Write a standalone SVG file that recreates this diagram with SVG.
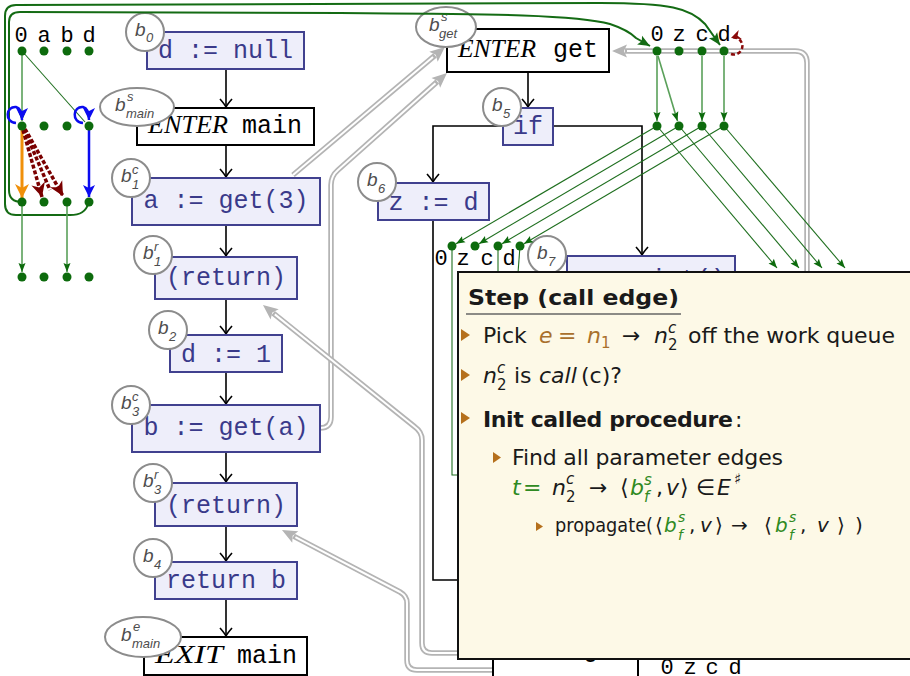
<svg xmlns="http://www.w3.org/2000/svg" width="910" height="676" viewBox="0 0 910 676">
<style>
.nd rect{fill:#eeeefa;stroke:#41418f;stroke-width:2}
.nd text{font-family:"Liberation Mono",monospace;font-size:25px;fill:#3a3a8a;text-anchor:middle}
.bk rect{fill:#fff;stroke:#000;stroke-width:2}
.bk text{font-size:25px;fill:#000}
.it{font-family:"Liberation Serif",serif;font-style:italic}
.mono{font-family:"Liberation Mono",monospace}
.lb circle,.lb ellipse{fill:#fff;stroke:#8c8c8c;stroke-width:2}
.lb text{font-family:"Liberation Sans",sans-serif;font-style:italic;fill:#4d4d4d;font-size:19px}
.lb text.s{font-size:13px}
.cf{fill:none;stroke:#000;stroke-width:1.6}
.dot{fill:#0d6b0d}
.vl{font-family:"Liberation Mono",monospace;font-size:22px;fill:#000;text-anchor:middle}
.ge{fill:none;stroke:#1f6f1f;stroke-width:1.1}
.gl{fill:none;stroke:#5aa05a;stroke-width:1.6}
.gc{fill:none;stroke:#146b14;stroke-width:2}
.go{fill:none;stroke:#b4b4b4;stroke-width:5.5}
.gi{fill:none;stroke:#fff;stroke-width:2}
.note{fill:#fdf9e7;stroke:#111;stroke-width:2}
.t{font-family:"DejaVu Sans",sans-serif;font-size:22px;fill:#1a1a1a}
.t.f{font-size:20px}
.mi{font-style:italic}
.sm{font-size:15px}
.xs{font-size:14px}
.br{fill:#a9702c}
.gr{fill:#2f8a22}
.bul{fill:#b5701c}
</style>
<defs>
<marker id="to" viewBox="-10 -8 12 16" refX="0" refY="0" markerWidth="12" markerHeight="16" markerUnits="userSpaceOnUse" orient="auto"><path d="M-8,-6 Q-2.5,-1.2 0,0 Q-2.5,1.2 -8,6" fill="none" stroke="#000" stroke-width="1.6"/></marker>
<marker id="gray" viewBox="-3 -8 18 16" refX="0" refY="0" markerWidth="18" markerHeight="16" markerUnits="userSpaceOnUse" orient="auto"><path d="M-2,-6.5 L13,0 L-2,6.5 L1,0 z" fill="#b4b4b4"/></marker>
<marker id="gn" viewBox="-11 -5 12 10" refX="0" refY="0" markerWidth="12" markerHeight="10" markerUnits="userSpaceOnUse" orient="auto"><path d="M0,0 L-9,-3.5 L-7.5,0 L-9,3.5 z" fill="#0d6b0d"/></marker>
<marker id="gnL" viewBox="-13 -6 14 12" refX="0" refY="0" markerWidth="14" markerHeight="12" markerUnits="userSpaceOnUse" orient="auto"><path d="M0,0 L-12,-5 L-9.5,0 L-12,5 z" fill="#146b14"/></marker>
<marker id="rd" viewBox="-15 -8 16 16" refX="0" refY="0" markerWidth="16" markerHeight="16" markerUnits="userSpaceOnUse" orient="auto"><path d="M0,0 L-14,-7 L-10,0 L-14,7 z" fill="#7a0000"/></marker>
<marker id="rds" viewBox="-11 -6 12 12" refX="0" refY="0" markerWidth="12" markerHeight="12" markerUnits="userSpaceOnUse" orient="auto"><path d="M0,0 L-10,-5 L-7,0 L-10,5 z" fill="#8a0a0a"/></marker>
<marker id="or" viewBox="-15 -8 16 16" refX="0" refY="0" markerWidth="16" markerHeight="16" markerUnits="userSpaceOnUse" orient="auto"><path d="M0,0 L-14,-7 L-10,0 L-14,7 z" fill="#f0900a"/></marker>
<marker id="bl" viewBox="-13 -7 14 14" refX="0" refY="0" markerWidth="14" markerHeight="14" markerUnits="userSpaceOnUse" orient="auto"><path d="M0,0 L-12,-6 L-9,0 L-12,6 z" fill="#0b0bf0"/></marker>
</defs>

<!-- call / return edges (double gray) -->
<g id="interproc">
<path class="go" marker-end="url(#gray)" d="M293,175 L435,55.4"/>
<path class="gi" d="M293,175 L433,57"/>
<path class="go" marker-end="url(#gray)" d="M320,428 Q331,428 331,417 L331,185 Q331,176 338,170 L437.3,81.6"/>
<path class="gi" d="M320,428 Q331,428 331,417 L331,185 Q331,176 338,170 L435.5,83.2"/>
<path class="go" marker-end="url(#gray)" d="M462,653 L432,653 Q422,653 422,643 L422,440 Q422,432 415,427 L273.1,313.1"/>
<path class="gi" d="M462,653 L432,653 Q422,653 422,643 L422,440 Q422,432 415,427 L274.8,314.4"/>
<path class="go" marker-end="url(#gray)" d="M493,670 L417,670 Q407,670 407,660 L407,603 Q407,596 400,592 L293.5,536.1"/>
<path class="gi" d="M493,670 L417,670 Q407,670 407,660 L407,603 Q407,596 400,592 L295.4,537.1"/>
<path class="go" marker-end="url(#gray)" d="M807,290 L807,63 Q807,51 795,51 L625,51"/>
<path class="gi" d="M807,290 L807,63 Q807,51 795,51 L627,51"/>
</g>

<!-- control-flow edges -->
<g id="cfg-edges">
<path class="cf" marker-end="url(#to)" d="M226,69 L226,107"/>
<path class="cf" marker-end="url(#to)" d="M226,145 L226,177"/>
<path class="cf" marker-end="url(#to)" d="M226,225 L226,256"/>
<path class="cf" marker-end="url(#to)" d="M226,299 L226,334"/>
<path class="cf" marker-end="url(#to)" d="M226,372 L226,404"/>
<path class="cf" marker-end="url(#to)" d="M226,452 L226,482"/>
<path class="cf" marker-end="url(#to)" d="M226,526 L226,561"/>
<path class="cf" marker-end="url(#to)" d="M226,599 L226,636"/>
<path class="cf" marker-end="url(#to)" d="M528,72 L528,107"/>
<path class="cf" marker-end="url(#to)" d="M503,126 L433,126 L433,182"/>
<path class="cf" marker-end="url(#to)" d="M553,126 L642,126 L642,255"/>
<path class="cf" d="M433,220 L433,580 L462,580"/>
</g>

<!-- main procedure nodes -->
<g id="b0" class="nd"><rect x="147" y="32" width="157" height="37"/><text x="225.5" y="58">d := null</text></g>
<g id="main-enter" class="bk"><rect x="137" y="108" width="177" height="37"/><text class="it" x="148" y="133" textLength="80" lengthAdjust="spacingAndGlyphs">ENTER</text><text class="mono" x="242" y="133">main</text></g>
<g id="b1c" class="nd"><rect x="132" y="178" width="188" height="47"/><text x="226" y="208">a := get(3)</text></g>
<g id="b1r" class="nd"><rect x="155" y="257" width="142" height="42"/><text x="226" y="285">(return)</text></g>
<g id="b2" class="nd"><rect x="170" y="335" width="112" height="37"/><text x="226" y="362">d := 1</text></g>
<g id="b3c" class="nd"><rect x="132" y="405" width="188" height="47"/><text x="226" y="435">b := get(a)</text></g>
<g id="b3r" class="nd"><rect x="155" y="483" width="142" height="43"/><text x="226" y="513">(return)</text></g>
<g id="b4" class="nd"><rect x="155" y="562" width="142" height="37"/><text x="226" y="588">return b</text></g>
<g id="main-exit" class="bk"><rect x="144" y="637" width="163" height="38"/><text class="it" x="155" y="663" textLength="68" lengthAdjust="spacingAndGlyphs">EXIT</text><text class="mono" x="237" y="663">main</text></g>

<!-- get procedure nodes -->
<g id="get-enter" class="bk"><rect x="447" y="29" width="162" height="43"/><text class="it" x="458" y="57" textLength="78" lengthAdjust="spacingAndGlyphs">ENTER</text><text class="mono" x="553" y="57">get</text></g>
<g id="b5" class="nd"><rect x="503" y="108" width="50" height="37"/><text x="528" y="134">if</text></g>
<g id="b6" class="nd"><rect x="378" y="183" width="111" height="37"/><text x="433.5" y="210">z := d</text></g>
<g id="b7" class="nd"><rect x="567" y="256" width="168" height="60"/><text x="651" y="287">c := int()</text></g>
<g id="get-exit" class="bk"><rect x="493" y="615" width="145" height="75"/><text class="it" x="505" y="657" textLength="66" lengthAdjust="spacingAndGlyphs">EXIT</text><text class="mono" x="583" y="657">get</text></g>

<!-- block labels -->
<g id="labels" class="lb">
<circle cx="145" cy="32" r="19"/><text x="135" y="36">b</text><text class="s" x="146" y="42">0</text>
<ellipse cx="137" cy="107" rx="37" ry="19"/><text x="115" y="111">b</text><text class="s" x="127" y="101">s</text><text class="s" x="126" y="118">main</text>
<circle cx="131" cy="178" r="19"/><text x="121" y="182">b</text><text class="s" x="132" y="174">c</text><text class="s" x="132" y="189">1</text>
<circle cx="153" cy="255" r="19"/><text x="143" y="259">b</text><text class="s" x="154" y="251">r</text><text class="s" x="154" y="266">1</text>
<circle cx="168" cy="330" r="19"/><text x="158" y="334">b</text><text class="s" x="169" y="341">2</text>
<circle cx="131" cy="405" r="19"/><text x="121" y="409">b</text><text class="s" x="132" y="401">c</text><text class="s" x="132" y="416">3</text>
<circle cx="153" cy="483" r="19"/><text x="143" y="487">b</text><text class="s" x="154" y="479">r</text><text class="s" x="154" y="494">3</text>
<circle cx="153" cy="558" r="19"/><text x="143" y="562">b</text><text class="s" x="154" y="569">4</text>
<ellipse cx="143" cy="637" rx="38" ry="20"/><text x="121" y="641">b</text><text class="s" x="133" y="631">e</text><text class="s" x="132" y="648">main</text>
<ellipse cx="446" cy="27" rx="30" ry="20"/><text x="429" y="31">b</text><text class="s" x="441" y="21">s</text><text class="s" x="439" y="38">get</text>
<circle cx="502" cy="107" r="19"/><text x="492" y="111">b</text><text class="s" x="503" y="118">5</text>
<circle cx="377" cy="182" r="19"/><text x="367" y="186">b</text><text class="s" x="378" y="193">6</text>
<circle cx="547" cy="255" r="19"/><text x="537" y="259">b</text><text class="s" x="548" y="266">7</text>
</g>

<!-- value-flow graph for main -->
<g id="main-values">
<text class="vl" x="21" y="42">0</text><text class="vl" x="44" y="42">a</text><text class="vl" x="67" y="42">b</text><text class="vl" x="89" y="42">d</text>
<path class="gc" marker-end="url(#gnL)" d="M89,202 C86,212 80,215 70,215 L16,215 Q5,215 5,204 L5,16 Q5,5 16,5 L600,3 C670,3 690,8 705,24 L720,45"/>
<path class="gc" marker-end="url(#gnL)" d="M22,202 Q9,202 9,190 L9,22 Q9,12 20,12 L340,13 C480,14 575,14 610,24 Q628,30 636,38 L650,46"/>
<path class="gl" stroke="#2d7d2d" marker-end="url(#gn)" d="M22,55 L22,121"/>
<path class="ge" d="M22,51 L85,122"/>
<path fill="none" stroke="#f0900a" stroke-width="3" marker-end="url(#or)" d="M22,130 L22,198"/>
<path fill="none" stroke="#7a0000" stroke-width="3.5" stroke-dasharray="4 2" marker-end="url(#rd)" d="M23,130 L42,197"/>
<path fill="none" stroke="#7a0000" stroke-width="3.5" stroke-dasharray="4 2" d="M24,129 L50,190"/>
<path fill="none" stroke="#7a0000" stroke-width="3.5" stroke-dasharray="4 2" marker-end="url(#rd)" d="M25,129 L63,196"/>
<path fill="none" stroke="#0b0bf0" stroke-width="2.5" marker-end="url(#bl)" d="M89,130 L89,197"/>
<path fill="none" stroke="#0b0bf0" stroke-width="2.5" marker-end="url(#bl)" d="M16,123 C4,122 6,106 16,107 C20,108 22,111 22,120"/>
<path fill="none" stroke="#0b0bf0" stroke-width="2.5" marker-end="url(#bl)" d="M83,123 C71,122 73,106 83,107 C87,108 89,111 89,120"/>
<path class="gl" stroke="#2d7d2d" marker-end="url(#gn)" d="M22,206 L22,272"/>
<path class="gl" stroke="#6aa86a" marker-end="url(#gn)" d="M67,206 L67,272"/>
<g class="dot">
<circle cx="22" cy="51" r="4.5"/><circle cx="44" cy="51" r="4.5"/><circle cx="67" cy="51" r="4.5"/><circle cx="89" cy="51" r="4.5"/>
<circle cx="22" cy="126" r="4.5"/><circle cx="44" cy="126" r="4.5"/><circle cx="67" cy="126" r="4.5"/><circle cx="89" cy="126" r="4.5"/>
<circle cx="22" cy="202" r="4.5"/><circle cx="44" cy="202" r="4.5"/><circle cx="67" cy="202" r="4.5"/><circle cx="89" cy="202" r="4.5"/>
<circle cx="22" cy="277" r="4.5"/><circle cx="44" cy="277" r="4.5"/><circle cx="67" cy="277" r="4.5"/><circle cx="89" cy="277" r="4.5"/>
</g>
</g>

<!-- value-flow graph for get -->
<g id="get-values">
<text class="vl" x="657" y="41">0</text><text class="vl" x="679" y="41">z</text><text class="vl" x="702" y="41">c</text><text class="vl" x="724" y="41">d</text>
<path fill="none" stroke="#8a0a0a" stroke-width="2.5" stroke-dasharray="4 2.5" marker-end="url(#rds)" d="M731,54 A8.5,8.5 0 1 0 731,38"/>
<path class="gl" marker-end="url(#gn)" d="M657,56 L657,121"/>
<path class="gl" marker-end="url(#gn)" d="M658,56 L677.5,121"/>
<path class="gl" marker-end="url(#gn)" d="M702,56 L702,121"/>
<path class="gl" marker-end="url(#gn)" d="M724,56 L724,121"/>
<path class="ge" marker-end="url(#gn)" d="M657,126 L456,243.7"/>
<path class="ge" marker-end="url(#gn)" d="M679,126 L479,243.7"/>
<path class="ge" marker-end="url(#gn)" d="M702,126 L502,243.7"/>
<path class="ge" marker-end="url(#gn)" d="M724,126 L524,243.7"/>
<path class="ge" marker-end="url(#gn)" d="M657,126 L777,268"/>
<path class="ge" marker-end="url(#gn)" d="M679,126 L799,268"/>
<path class="ge" marker-end="url(#gn)" d="M702,126 L822,268"/>
<path class="ge" marker-end="url(#gn)" d="M724,126 L845,268"/>
<path class="ge" stroke="#3a8a3a" d="M452,246 L452,475 L462,475"/>
<path class="ge" stroke="#3a8a3a" d="M498,246 L498,300"/>
<path class="ge" stroke="#3a8a3a" d="M520,246 L516,300"/>
<text class="vl" x="441" y="265">0</text><text class="vl" x="463" y="265">z</text><text class="vl" x="487" y="265">c</text><text class="vl" x="509" y="265">d</text>
<g class="dot">
<circle cx="657" cy="51" r="4.5"/><circle cx="679" cy="51" r="4.5"/><circle cx="702" cy="51" r="4.5"/><circle cx="724" cy="51" r="4.5"/>
<circle cx="657" cy="126" r="4.5"/><circle cx="679" cy="126" r="4.5"/><circle cx="702" cy="126" r="4.5"/><circle cx="724" cy="126" r="4.5"/>
<circle cx="452" cy="246" r="4.5"/><circle cx="475" cy="246" r="4.5"/><circle cx="498" cy="246" r="4.5"/><circle cx="520" cy="246" r="4.5"/>
</g>
<text class="vl" x="667" y="674">0</text><text class="vl" x="690" y="674">z</text><text class="vl" x="712" y="674">c</text><text class="vl" x="735" y="674">d</text>
</g>

<!-- algorithm step callout -->
<g id="step-box">
<rect class="note" x="458" y="272" width="470" height="387"/>
<text class="t" x="468" y="305" font-weight="bold" font-size="24" fill="#000" textLength="211" lengthAdjust="spacingAndGlyphs">Step (call edge)</text>
<line x1="466" y1="314" x2="681" y2="314" stroke="#666" stroke-width="1.3"/>
<polygon class="bul" points="461,329 470,335 461,341"/>
<text class="t" y="343"><tspan x="483">Pick</tspan><tspan class="mi br" x="539">e</tspan><tspan class="br" x="558">=</tspan><tspan class="mi br" x="587">n</tspan><tspan class="br sm" x="601" y="348">1</tspan><tspan x="622" y="343">→</tspan><tspan class="mi" x="654">n</tspan><tspan class="mi sm" x="668" y="333">c</tspan><tspan class="sm" x="668" y="350">2</tspan></text>
<text class="t" x="688" y="343" textLength="207">off the work queue</text>
<polygon class="bul" points="461,369 470,375 461,381"/>
<text class="t" y="383"><tspan class="mi" x="483">n</tspan><tspan class="mi sm" x="497" y="373">c</tspan><tspan class="sm" x="497" y="390">2</tspan><tspan x="514" y="383">is</tspan><tspan class="mi" x="539">call</tspan><tspan x="581">(c)?</tspan></text>
<polygon class="bul" points="461,412 470,418 461,424"/>
<text class="t" x="483" y="427" font-weight="bold" fill="#000" textLength="250">Init called procedure</text>
<text class="t" x="735" y="427">:</text>
<polygon class="bul" points="493,452 501,457.5 493,463"/>
<text class="t" x="512" y="465" textLength="271">Find all parameter edges</text>
<text class="t" y="495"><tspan class="mi gr" x="512">t</tspan><tspan class="gr" x="523">=</tspan><tspan class="mi" x="552">n</tspan><tspan class="mi sm" x="566" y="484">c</tspan><tspan class="sm" x="566" y="502">2</tspan><tspan x="589" y="495">→</tspan><tspan x="620">⟨</tspan><tspan class="mi gr" x="630">b</tspan><tspan class="mi gr sm" x="644" y="485">s</tspan><tspan class="mi gr sm" x="644" y="502">f</tspan><tspan x="656" y="495">,</tspan><tspan class="mi" x="666">v</tspan><tspan x="680">⟩</tspan><tspan x="696">∈</tspan><tspan class="mi" x="717">E</tspan><tspan class="sm" x="734" y="484">♯</tspan></text>
<polygon class="bul" points="536,522 543,526.5 536,531"/>
<text class="t f" y="532"><tspan x="555" textLength="98" lengthAdjust="spacingAndGlyphs">propagate(</tspan><tspan x="655">⟨</tspan><tspan class="mi gr" x="664">b</tspan><tspan class="mi gr xs" x="678" y="522">s</tspan><tspan class="mi gr xs" x="678" y="540">f</tspan><tspan x="689" y="532">,</tspan><tspan class="mi" x="700">v</tspan><tspan x="715">⟩</tspan><tspan x="731">→</tspan><tspan x="764">⟨</tspan><tspan class="mi gr" x="775">b</tspan><tspan class="mi gr xs" x="789" y="522">s</tspan><tspan class="mi gr xs" x="789" y="540">f</tspan><tspan x="800" y="532">,</tspan><tspan class="mi" x="817">v</tspan><tspan x="837">⟩</tspan><tspan x="855">)</tspan></text>
</g>
</svg>
